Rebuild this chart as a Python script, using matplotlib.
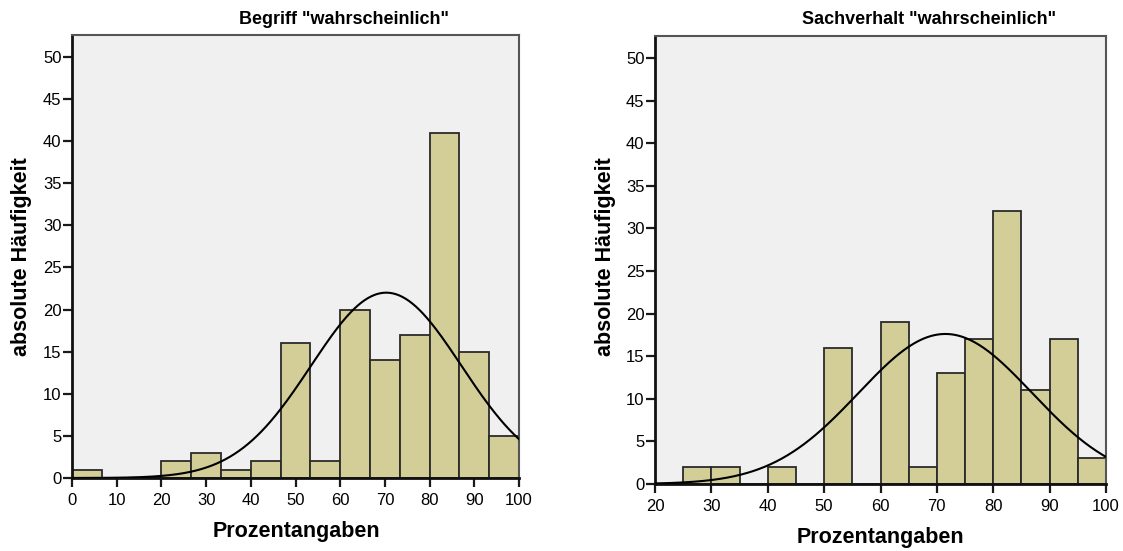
#!/usr/bin/env python3
"""Two SPSS-style histograms with normal curve."""
import numpy as np
import matplotlib.pyplot as plt

plt.rcParams['font.family'] = ['Liberation Sans', 'DejaVu Sans']

# Begriff "wahrscheinlich": 15 bins from 0 to 100
left_edges = np.linspace(0, 100, 16)
left_counts = [1, 0, 0, 2, 3, 1, 2, 16, 2, 20, 14, 17, 41, 15, 5]
left_mean, left_sd = 70.3, 16.8

# Sachverhalt "wahrscheinlich": bins of 5 from 20 to 100
right_edges = np.arange(20, 101, 5)
right_counts = [0, 2, 2, 0, 2, 0, 16, 0, 19, 2, 13, 17, 32, 11, 17, 3]
right_mean, right_sd = 71.5, 15.4

bar_color = '#d3ce98'
bg_color = '#f0f0f0'

fig = plt.figure(figsize=(11.23, 5.51), dpi=100)
ax1 = fig.add_axes([72/1123, 1-478/551, (519-72)/1123, (478-35)/551])
ax2 = fig.add_axes([655/1123, 1-484/551, (1106-655)/1123, (484-36)/551])


def draw_hist(ax, edges, counts, mu, sd, xlim, xticks):
    edges = np.asarray(edges, dtype=float)
    widths = np.diff(edges)
    ax.set_facecolor(bg_color)
    ax.bar(edges[:-1], counts, width=widths, align='edge', color=bar_color,
           edgecolor='#2a2a2a', linewidth=1.3, zorder=2)
    n = sum(counts)
    xs = np.linspace(xlim[0], xlim[1], 400)
    ys = n * widths[0] / (sd * np.sqrt(2 * np.pi)) * np.exp(-(xs - mu) ** 2 / (2 * sd ** 2))
    ax.plot(xs, ys, color='black', linewidth=1.5, zorder=3)
    ax.set_xlim(*xlim)
    ax.set_ylim(0, 52.6)
    ax.set_xticks(xticks)
    ax.set_yticks(range(0, 51, 5))
    ax.tick_params(axis='both', labelsize=12, length=6.5, width=1.6,
                   color='#1a1a1a')
    ax.tick_params(axis='x', pad=4)
    ax.tick_params(axis='y', pad=1)
    for side in ('left', 'bottom'):
        ax.spines[side].set_linewidth(2)
        ax.spines[side].set_color('#111111')
    for side in ('top', 'right'):
        ax.spines[side].set_linewidth(1.5)
        ax.spines[side].set_color('#555555')


draw_hist(ax1, left_edges, left_counts, left_mean, left_sd, (0, 100), range(0, 101, 10))
draw_hist(ax2, right_edges, right_counts, right_mean, right_sd, (20, 100), range(20, 101, 10))

fig.text(344/1123, 1-20/551, 'Begriff "wahrscheinlich"', ha='center', va='center',
         fontsize=13, fontweight='bold')
fig.text(929/1123, 1-20/551, 'Sachverhalt "wahrscheinlich"', ha='center', va='center',
         fontsize=13, fontweight='bold')

for x in (22, 605):
    fig.text(x/1123, 1-257/551, 'absolute Häufigkeit', rotation=90, ha='center',
             va='center', fontsize=15.5, fontweight='bold')
fig.text(296/1123, 1-531/551, 'Prozentangaben', ha='center', va='center',
         fontsize=15.5, fontweight='bold')
fig.text(880/1123, 1-537/551, 'Prozentangaben', ha='center', va='center',
         fontsize=15.5, fontweight='bold')

plt.savefig('out.png', dpi=100)
plt.close()
